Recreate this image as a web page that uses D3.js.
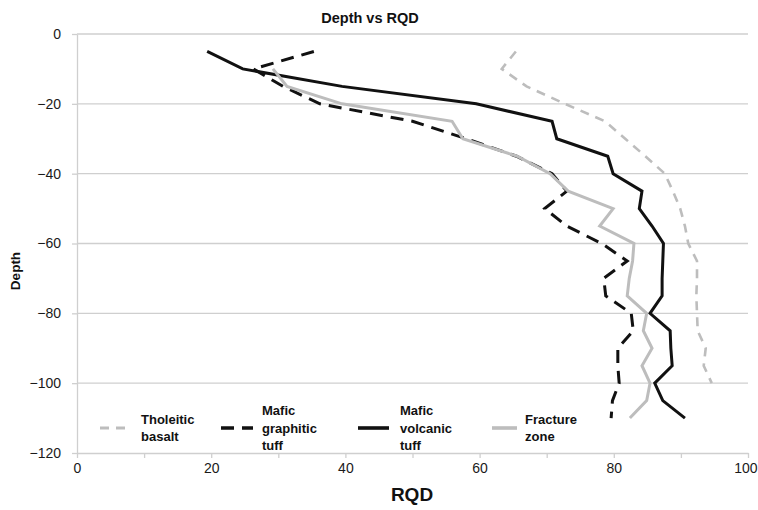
<!DOCTYPE html>
<html>
<head>
<meta charset="utf-8">
<script src="https://cdn.jsdelivr.net/npm/d3@7"></script>
<style>
  html, body { margin: 0; padding: 0; background: #fff; }
  svg { display: block; font-family: "Liberation Sans", Arial, sans-serif; }
</style>
</head>
<body>
<svg id="chart" width="758" height="510"></svg>
<script>
// ---- data ----
const depths = [-5,-10,-15,-20,-25,-30,-35,-40,-45,-50,-55,-60,-65,-70,-75,-80,-85,-90,-95,-100,-105,-110];
const tholeiticDepths = depths.slice(0, 20);
const tholeiticBasalt = [65.4,63.3,67.0,72.7,78.7,81.7,84.7,87.6,88.8,89.9,90.6,91.1,92.4,92.4,92.3,92.4,92.5,93.7,93.4,94.6];
const graphiticDepths = depths;
const maficGraphiticTuff = [35.3,26.3,30.7,36.2,50.0,58.0,65.5,70.8,73.0,69.7,73.0,78.2,82.0,78.5,78.8,82.6,82.9,80.6,80.6,80.8,79.8,79.6];
const volcanicDepths = depths;
const maficVolcanicTuff = [19.4,24.7,39.5,59.5,70.8,71.5,79.1,79.9,84.2,83.8,85.7,87.4,87.3,87.2,87.2,85.4,88.4,88.5,88.7,86.1,87.3,90.6];
const fractureDepths = depths.slice(1);
const fractureZone = [29.2,31.3,39.5,55.9,57.5,65.6,70.5,73.2,79.9,77.9,83.0,82.8,82.3,82.0,84.9,84.4,85.7,84.2,85.4,84.9,82.4];

const xTicks = [0,10,20,30,40,50,60,70,80,90,100];
const xLabelTicks = [0,20,40,60,80,100];
const yTicks = [0,-20,-40,-60,-80,-100,-120];

const seriesNames = [["Tholeitic","basalt"],["Mafic","graphitic","tuff"],["Mafic","volcanic","tuff"],["Fracture","zone"]];

// ---- layout ----
const svg = d3.select("#chart");
const L = 77, R = 748, T = 34, B = 453;
const x = d3.scaleLinear().domain([0,100]).range([L,R]);
const y = d3.scaleLinear().domain([-120,0]).range([B,T]);

const gridColor = "#cfcfcf";
const greyLine = "#bdbdbd";

// gridlines
svg.append("g").selectAll("line").data(yTicks.filter(d => d !== -120)).join("line")
  .attr("x1", L).attr("x2", R)
  .attr("y1", d => y(d)).attr("y2", d => y(d))
  .attr("stroke", gridColor).attr("stroke-width", 1.3);

// axes
const xAxis = svg.append("g").attr("transform", `translate(0,${B})`)
  .call(d3.axisBottom(x).tickValues(xTicks).tickSize(5).tickSizeOuter(0)
    .tickFormat(d => xLabelTicks.includes(d) ? d : ""));
const yAxis = svg.append("g").attr("transform", `translate(${L},0)`)
  .call(d3.axisLeft(y).tickValues(yTicks).tickSize(5).tickSizeOuter(0));

[xAxis, yAxis].forEach(g => {
  g.select(".domain").attr("stroke", gridColor).attr("stroke-width", 1.3);
  g.selectAll(".tick line").attr("stroke", gridColor).attr("stroke-width", 1.3);
  g.selectAll(".tick text").attr("fill", "#1a1a1a").style("font-size", "14px")
    .style("font-family", "'Liberation Sans', Arial, sans-serif");
});
xAxis.selectAll(".tick text").attr("dy", "0.95em").attr("y", 7);
// keep the last label inside the picture (reference shows it at the right edge)
xAxis.selectAll(".tick text").filter(d => d === 100).attr("text-anchor", "end").attr("x", 9);
yAxis.selectAll(".tick text").attr("x", -16);

// lines
const series = [
  { xs: tholeiticBasalt, ys: tholeiticDepths, color: greyLine, dash: "9,7", w: 2.6 },
  { xs: maficGraphiticTuff, ys: graphiticDepths, color: "#111", dash: "13,8", w: 3 },
  { xs: maficVolcanicTuff, ys: volcanicDepths, color: "#111", dash: null, w: 3 },
  { xs: fractureZone, ys: fractureDepths, color: greyLine, dash: null, w: 3 }
];
const line = d3.line().x(d => x(d[0])).y(d => y(d[1]));
series.forEach(s => {
  svg.append("path")
    .datum(s.xs.map((v, i) => [v, s.ys[i]]))
    .attr("d", line)
    .attr("fill", "none")
    .attr("stroke", s.color)
    .attr("stroke-width", s.w)
    .attr("stroke-linejoin", "miter")
    .attr("stroke-dasharray", s.dash);
});

// legend
const legendPos = [
  { lx1: 100, lx2: 132, tx: 141 },
  { lx1: 221, lx2: 253, tx: 262 },
  { lx1: 358, lx2: 389, tx: 400 },
  { lx1: 492, lx2: 517, tx: 525 }
];
const legendY = 428;
const lineH = 17.5;
series.forEach((s, i) => {
  const p = legendPos[i];
  svg.append("line")
    .attr("x1", p.lx1).attr("x2", p.lx2).attr("y1", legendY).attr("y2", legendY)
    .attr("stroke", s.color).attr("stroke-width", s.w + 0.6)
    .attr("stroke-dasharray", s.dash);
  const lines = seriesNames[i];
  const startBase = legendY + 4.5 - (lines.length - 1) * lineH / 2;
  const t = svg.append("text").attr("x", p.tx)
    .style("font-size", "13px").style("font-weight", "bold").attr("fill", "#111");
  lines.forEach((w, j) => {
    t.append("tspan").attr("x", p.tx).attr("y", startBase + j * lineH).text(w);
  });
});

// titles
svg.append("text").attr("x", 370).attr("y", 23).attr("text-anchor", "middle")
  .style("font-size", "14.5px").style("font-weight", "bold").attr("fill", "#111")
  .text("Depth vs RQD");
svg.append("text").attr("x", 412).attr("y", 501).attr("text-anchor", "middle")
  .style("font-size", "19px").style("font-weight", "bold").attr("fill", "#111")
  .text("RQD");
svg.append("text").attr("transform", "translate(20,271) rotate(-90)").attr("text-anchor", "middle")
  .style("font-size", "13.5px").style("font-weight", "bold").attr("fill", "#111")
  .text("Depth");
</script>
</body>
</html>
